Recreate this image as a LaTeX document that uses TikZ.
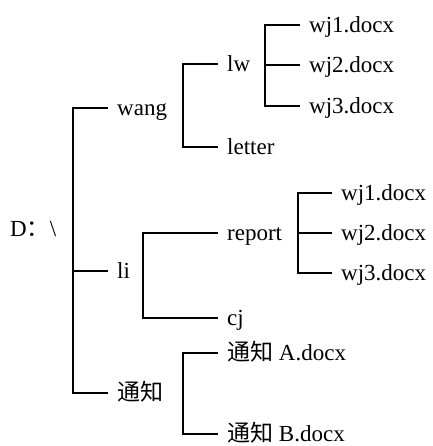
\documentclass[tikz,border=0pt]{standalone}
\usepackage{fontspec}
\setmainfont{Liberation Serif}
\newfontfamily\cjk{Noto Sans CJK SC}
\begin{document}
\begin{tikzpicture}[x=1pt,y=-1pt,
  item/.style={anchor=west,inner xsep=9pt,inner ysep=0pt,text height=20pt,text depth=5pt,font=\fontsize{23}{26}\selectfont},
  link/.style={line width=1.5pt,line join=miter}]
\useasboundingbox (0,0) rectangle (432,446);
% root
\node[item,anchor=base west,inner xsep=0pt] (root) at (10,236) {D{\cjk ：}\textbackslash};
% level 1
\node[item] (wang) at (108,108) {wang};
\node[item] (li) at (108,271) {li};
\node[item] (tz) at (108,393) {{\cjk 通知}};
% level 2
\node[item] (lw) at (218,64) {lw};
\node[item] (letter) at (218,147) {letter};
\node[item] (report) at (218,233) {report};
\node[item] (cj) at (218,318) {cj};
\node[item] (tza) at (218,353) {{\cjk 通知} A.docx};
\node[item] (tzb) at (218,434) {{\cjk 通知} B.docx};
% level 3
\node[item] (a1) at (300,25) {wj1.docx};
\node[item] (a2) at (300,65) {wj2.docx};
\node[item] (a3) at (300,106) {wj3.docx};
\node[item] (b1) at (332,193) {wj1.docx};
\node[item] (b2) at (332,233) {wj2.docx};
\node[item] (b3) at (332,273) {wj3.docx};
% spines
\coordinate (s1) at (73,0);
\coordinate (s2) at (183,0);
\coordinate (s3) at (265,0);
\coordinate (s4) at (143,0);
\coordinate (s5) at (298,0);
\coordinate (s6) at (183,0);
% connectors
\draw[link] (wang.west) -- (wang.west -| s1) -- (tz.west -| s1) -- (tz.west);
\draw[link] (li.west) -- (li.west -| s1);
\draw[link] (lw.west) -- (lw.west -| s2) -- (letter.west -| s2) -- (letter.west);
\draw[link] (a1.west) -- (a1.west -| s3) -- (a3.west -| s3) -- (a3.west);
\draw[link] (a2.west) -- (a2.west -| s3);
\draw[link] (report.west) -- (report.west -| s4) -- (cj.west -| s4) -- (cj.west);
\draw[link] (b1.west) -- (b1.west -| s5) -- (b3.west -| s5) -- (b3.west);
\draw[link] (b2.west) -- (b2.west -| s5);
\draw[link] (tza.west) -- (tza.west -| s6) -- (tzb.west -| s6) -- (tzb.west);
\end{tikzpicture}
\end{document}
